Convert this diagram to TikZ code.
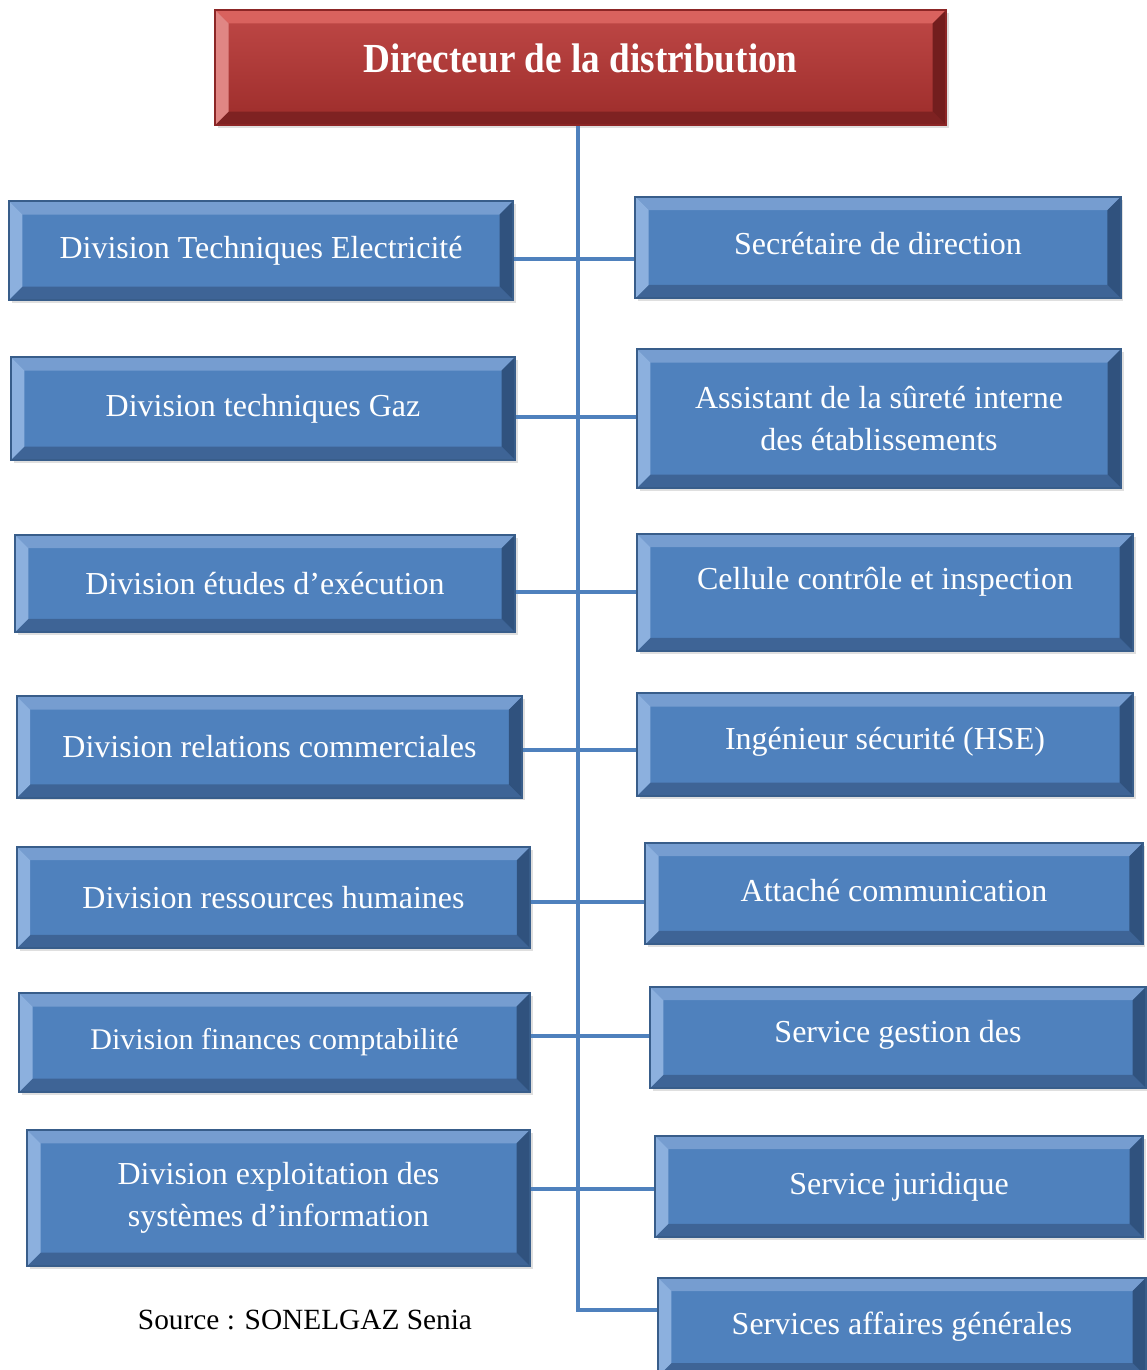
\documentclass[tikz,border=0pt]{standalone}
\usepackage{fontspec}
\setmainfont{Liberation Serif}
\usepackage{graphicx}
\usepackage{xcolor}
\usepackage{tikz}
\usetikzlibrary{calc,shadows}

\definecolor{boxface}{RGB}{79,129,189}
\definecolor{boxline}{RGB}{56,93,138}
\definecolor{bevtop}{RGB}{118,157,208}
\definecolor{bevleft}{RGB}{140,176,222}
\definecolor{bevright}{RGB}{48,82,126}
\definecolor{bevbot}{RGB}{62,100,150}
\definecolor{redface}{RGB}{184,52,50}
\definecolor{redline}{RGB}{140,38,38}
\definecolor{redtop}{RGB}{217,98,94}
\definecolor{redleft}{RGB}{224,134,132}
\definecolor{redright}{RGB}{115,30,30}
\definecolor{redbot}{RGB}{126,34,34}
\definecolor{linkcol}{RGB}{79,129,189}

\def\bev{10pt}
% bevelled border faces: top, left, right, bottom
\newcommand{\bevelfaces}[4]{%
  \path (path picture bounding box.north west) coordinate (bnw)
        (path picture bounding box.south east) coordinate (bse);
  \fill[#1] (bnw) -- (bnw -| bse) -- ++(-\bev,-\bev) -- ([shift={(\bev,-\bev)}]bnw) -- cycle;
  \fill[#4] (bnw |- bse) -- (bse) -- ++(-\bev,\bev) -- ([shift={(\bev,\bev)}]bnw |- bse) -- cycle;
  \fill[#2] (bnw) -- (bnw |- bse) -- ++(\bev,\bev) -- ([shift={(\bev,-\bev)}]bnw) -- cycle;
  \fill[#3] (bnw -| bse) -- (bse) -- ++(-\bev,\bev) -- ([shift={(-\bev,-\bev)}]bnw -| bse) -- cycle;
}
% text set a little above the middle of its box
\newcommand{\uptext}[2]{\raisebox{0pt}[\height][\dimexpr\depth+#1\relax]{#2}}

\tikzset{
  bluebox/.style={draw=boxline, line width=1.5pt, fill=boxface, text=white,
    align=center, inner sep=0pt,
    font=\fontsize{24}{31.5}\selectfont,
    drop shadow={opacity=0.25, shadow xshift=2pt, shadow yshift=-2pt},
    path picture={\bevelfaces{bevtop}{bevleft}{bevright}{bevbot}}},
  headbox/.style={draw=redline, line width=1.5pt, top color=redface!90!white,
    bottom color=redface!85!black, text=white, align=center, inner sep=0pt,
    drop shadow={opacity=0.25, shadow xshift=2pt, shadow yshift=-2pt},
    path picture={\bevelfaces{redtop}{redleft}{redright}{redbot}}},
  link/.style={draw=linkcol, line width=3pt},
}

\begin{document}
\begin{tikzpicture}[x=0.75pt, y=-0.75pt]
  \useasboundingbox (0,0) rectangle (1146,1370);

  % head
  \node[headbox, minimum width=548pt, minimum height=86pt] (dir) at (580.5,67.5)
    {\uptext{14pt}{\scalebox{0.9}[1]{\fontsize{31}{36}\selectfont\bfseries Directeur de la distribution}}};

  % divisions (left)
  \node[bluebox, minimum width=378pt, minimum height=74pt] (dte) at (261,250.5) {Division Techniques Electricité};
  \node[bluebox, minimum width=378pt, minimum height=77pt] (dtg) at (263,408.5) {Division techniques Gaz};
  \node[bluebox, minimum width=375pt, minimum height=73pt] (dee) at (265,583.5) {Division études d’exécution};
  \node[bluebox, minimum width=379pt, minimum height=76pt] (drc) at (269.5,747) {Division relations commerciales};
  \node[bluebox, minimum width=385pt, minimum height=76pt] (drh) at (273.5,897.5) {Division ressources humaines};
  \node[bluebox, minimum width=383pt, minimum height=74pt, font=\fontsize{22.5}{30}\selectfont] (dfc) at (274.5,1042.5) {Division finances comptabilité};
  \node[bluebox, minimum width=377pt, minimum height=102pt] (desi) at (278.5,1198) {Division exploitation des\\systèmes d’information};

  % staff (right)
  \node[bluebox, minimum width=364pt, minimum height=76pt] (sec) at (878,247.5) {\uptext{6pt}{Secrétaire de direction}};
  \node[bluebox, minimum width=363pt, minimum height=104pt] (asi) at (879,418.5) {Assistant de la sûreté interne\\des établissements};
  \node[bluebox, minimum width=372pt, minimum height=88pt] (cci) at (885,592.5) {\uptext{16pt}{Cellule contrôle et inspection}};
  \node[bluebox, minimum width=372pt, minimum height=77pt] (hse) at (885,744.5) {\uptext{4pt}{Ingénieur sécurité (HSE)}};
  \node[bluebox, minimum width=373pt, minimum height=76pt] (acom) at (894,893.5) {\uptext{4pt}{Attaché communication}};
  \node[bluebox, minimum width=372pt, minimum height=76pt] (sgd) at (898,1037.5) {\uptext{4pt}{Service gestion des}};
  \node[bluebox, minimum width=366pt, minimum height=76pt] (sjur) at (899,1186.5) {Service juridique};
  \node[bluebox, minimum width=366pt, minimum height=74pt] (saf) at (902,1327) {Services affaires générales};

  \node[font=\fontsize{22}{26}\selectfont] (src) at (305,1320) {Source : SONELGAZ Senia};

  % connectors
  \coordinate (trunk) at (578,1310);
  \draw[link] (dir.south -| trunk) -- (trunk) -- (trunk -| saf.west);
  \draw[link] ([yshift=-6pt]dte.east) -- ([yshift=-6pt]dte.east -| sec.west);
  \draw[link] ([yshift=-6pt]dtg.east) -- ([yshift=-6pt]dtg.east -| asi.west);
  \draw[link] ([yshift=-6pt]dee.east) -- ([yshift=-6pt]dee.east -| cci.west);
  \draw[link] ([yshift=-2pt]drc.east) -- ([yshift=-2pt]drc.east -| hse.west);
  \draw[link] ([yshift=-3pt]drh.east) -- ([yshift=-3pt]drh.east -| acom.west);
  \draw[link] ([yshift=5pt]dfc.east) -- ([yshift=5pt]dfc.east -| sgd.west);
  \draw[link] ([yshift=7pt]desi.east) -- ([yshift=7pt]desi.east -| sjur.west);
\end{tikzpicture}
\end{document}
